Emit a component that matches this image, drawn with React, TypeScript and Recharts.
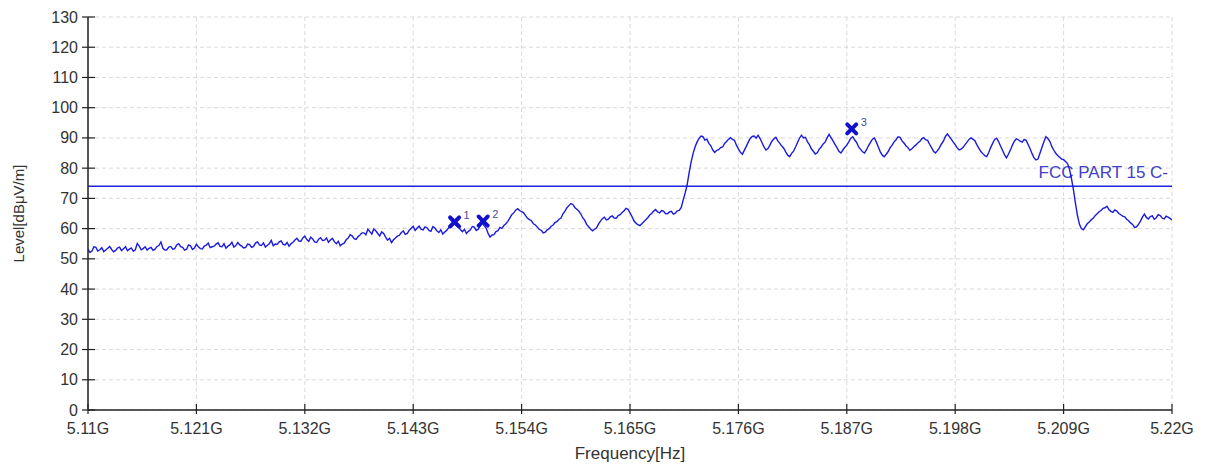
import React from 'react';
import { ComposedChart, Line, Scatter, XAxis, YAxis, CartesianGrid, ReferenceLine } from 'recharts';

// sweep: start frequency (GHz) and step between measured points
const START_FREQ = 5.11;
const FREQ_STEP = 0.0002;

// measured level trace (dBµV/m), one value per sweep point
const levels: number[] = [
  53.2, 52.1, 52.6, 54.0, 53.8, 52.6, 53.0, 53.7, 52.4, 52.9, 53.5, 54.1, 53.1, 52.3, 52.8, 53.6, 53.9, 52.7, 53.3, 54.0,
  52.7, 53.2, 53.6, 52.5, 53.0, 55.1, 54.2, 53.0, 53.4, 54.0, 52.9, 53.5, 53.8, 52.8, 53.2, 54.1, 54.4, 55.6, 53.5, 52.9,
  53.0, 53.9, 54.1, 53.2, 53.4, 54.6, 55.0, 54.0, 53.8, 52.9, 53.2, 54.6, 54.3, 53.1, 53.6, 54.8, 54.0, 53.4, 53.3, 54.2,
  54.5, 55.2, 53.7, 54.0, 54.2, 54.9, 55.3, 54.1, 54.0, 55.0, 53.5, 54.2, 54.6, 55.5, 53.9, 54.4, 55.4, 54.6, 54.2, 53.6,
  53.8, 54.9, 54.7, 53.8, 54.1, 55.2, 55.6, 54.6, 54.4, 55.3, 53.9, 54.5, 55.0, 56.1, 54.3, 54.9, 54.8, 55.6, 55.9, 54.8,
  54.6, 55.4, 54.2, 55.0, 55.5, 56.2, 56.8, 55.9, 55.8, 56.9, 57.5, 56.4, 55.8, 57.2, 56.6, 55.6, 55.4, 56.5, 57.0, 56.1,
  56.2, 56.9, 55.5, 56.2, 56.8, 55.7, 55.0, 55.8, 54.3, 54.9, 55.2, 56.3, 56.9, 58.0, 57.6, 56.7, 56.4, 57.3, 57.9, 58.6,
  58.6, 58.0, 59.8, 59.0, 58.2, 59.9, 59.3, 58.4, 57.6, 58.9, 58.4, 57.2, 56.2, 56.8, 55.4, 56.3, 56.9, 57.5, 57.8, 58.7,
  59.2, 58.1, 58.4, 59.5, 60.1, 60.8, 59.4, 60.2, 60.8, 59.8, 59.6, 60.6, 60.3, 59.4, 59.1, 60.7, 60.2, 59.3, 58.7, 59.6,
  58.2, 58.9, 59.4, 60.3, 60.6, 61.9, 61.6, 60.9, 60.4, 59.6, 59.0, 59.8, 58.4, 59.1, 59.6, 60.7, 60.5, 59.4, 59.8, 60.9,
  61.8, 61.0, 60.2, 58.4, 57.2, 57.9, 58.0, 59.0, 59.3, 60.4, 60.1, 61.0, 61.6, 62.4, 63.5, 64.6, 65.2, 66.1, 66.6, 66.0,
  65.6, 65.2, 64.3, 63.4, 63.0, 62.6, 61.6, 61.2, 60.5, 59.7, 59.4, 58.6, 58.8, 59.6, 60.0, 60.8, 61.2, 62.0, 62.4, 63.1,
  63.5, 64.9, 65.8, 66.9, 67.6, 68.3, 68.0, 67.0, 66.4, 65.8, 64.9, 63.6, 62.8, 61.4, 60.6, 59.9, 59.3, 59.8, 60.2, 61.5,
  62.5, 63.3, 63.8, 62.9, 63.1, 63.9, 64.2, 63.5, 63.4, 64.3, 64.6, 65.3, 65.9, 66.7, 66.4, 65.2, 64.0, 62.6, 61.8, 61.3,
  61.0, 61.6, 62.3, 62.9, 63.6, 64.5, 65.0, 65.8, 66.3, 65.5, 65.2, 66.0, 65.8, 65.0, 64.9, 65.5, 65.7, 64.8, 65.1, 65.9,
  66.0, 67.0, 69.5, 71.8, 74.5, 78.5, 82.0, 84.8, 87.0, 88.6, 89.8, 90.6, 90.4, 89.3, 89.6, 88.2, 87.4, 86.0, 85.2, 85.9,
  86.1, 86.8, 87.0, 88.2, 88.8, 89.6, 90.1, 89.5, 89.2, 87.6, 86.4, 85.3, 84.6, 85.9, 87.2, 88.6, 89.8, 90.5, 90.6, 89.9,
  90.9, 89.8, 88.4, 87.0, 86.0, 86.5, 87.6, 88.9, 89.7, 90.2, 89.0, 88.2, 87.3, 86.6, 85.4, 84.3, 83.8, 84.9, 85.6, 87.0,
  88.5, 89.9, 90.9, 90.0, 90.2, 88.8, 87.8, 86.4, 85.6, 84.7, 85.1, 86.3, 87.0, 88.0, 88.6, 90.0, 91.2, 90.1, 89.0, 87.9,
  86.8, 85.6, 85.0, 86.0, 86.9, 87.6, 88.7, 89.9, 90.4, 89.3, 88.5, 87.0, 86.2, 85.4, 85.0, 86.1, 87.4, 88.5, 89.6, 90.0,
  88.6, 87.0, 85.4, 84.3, 83.8, 84.6, 85.5, 86.8, 87.6, 88.7, 89.4, 90.4, 90.2, 89.0, 88.3, 87.4, 86.8, 85.9, 86.4, 87.1,
  87.6, 88.3, 88.8, 89.7, 90.1, 89.4, 89.2, 87.9, 86.8, 85.6, 85.0, 85.8, 86.7, 88.0, 88.9, 90.4, 91.3, 90.5, 89.6, 88.6,
  87.8, 86.7, 86.0, 86.3, 86.9, 87.8, 88.6, 89.5, 90.0, 89.6, 89.1, 87.7, 86.6, 85.5, 84.8, 84.1, 83.8, 85.2, 86.8, 88.2,
  89.5, 89.9, 88.8, 87.3, 85.9, 84.5, 83.4, 84.6, 86.0, 87.6, 88.9, 89.7, 89.4, 88.9, 88.6, 89.5, 89.2, 87.8, 86.4, 84.8,
  83.4, 82.7, 83.0, 84.9, 86.8, 88.7, 90.4, 89.8, 88.9, 87.2, 86.0, 84.9, 84.2, 83.6, 83.0, 82.8, 82.2, 81.5, 79.6, 76.5,
  72.8, 68.4, 64.5, 61.5, 60.0, 59.6, 60.6, 61.6, 62.2, 62.9, 63.4, 64.3, 64.9, 65.6, 66.0, 66.7, 66.9, 67.4, 66.3, 65.7,
  65.4, 66.2, 65.8, 65.0, 64.6, 64.1, 63.9, 63.1, 62.6, 61.9, 61.4, 60.4, 60.6, 61.4, 62.5, 63.8, 64.8, 63.7, 63.2, 64.0,
  64.2, 63.1, 63.6, 64.6, 64.3, 63.5, 63.2, 64.1, 63.8, 63.4, 62.9,
];

// x / y axis ticks
const xTicks = [5.11, 5.121, 5.132, 5.143, 5.154, 5.165, 5.176, 5.187, 5.198, 5.209, 5.22];
const yTicks = [0, 10, 20, 30, 40, 50, 60, 70, 80, 90, 100, 110, 120, 130];

// markers
const markerFreqs = [5.1472, 5.1501, 5.1875];
const markerLevels = [62.2, 62.5, 93.0];
const markerNames = ['1', '2', '3'];

// limit line
const limitLevel = 74;
const limitName = 'FCC PART 15 C-';

const trace = levels.map((v, i) => ({ f: +(START_FREQ + i * FREQ_STEP).toFixed(5), level: v }));
const markers = markerFreqs.map((f, i) => ({ f, level: markerLevels[i], name: markerNames[i] }));

const TRACE = '#1a1ae0';
const AXIS = '#222';
const TXT = '#333';
const FONT = '"Liberation Sans", Arial, sans-serif';

const YTick = (props: any) => {
  const { x, y, payload } = props;
  return (
    <g>
      <line x1={x - 6} x2={x + 7} y1={y} y2={y} stroke={AXIS} strokeWidth={1.2} />
      <text x={x - 10} y={y} dy={5.5} textAnchor="end" fontSize={16} fill={TXT} fontFamily={FONT}>
        {payload.value}
      </text>
    </g>
  );
};

const XTick = (props: any) => {
  const { x, y, payload } = props;
  return (
    <g>
      <line x1={x} x2={x} y1={y - 6} y2={y + 4} stroke={AXIS} strokeWidth={1.2} />
      <text x={x} y={y + 24} textAnchor="middle" fontSize={16} fill={TXT} fontFamily={FONT}>
        {`${+Number(payload.value).toFixed(3)}G`}
      </text>
    </g>
  );
};

const YLabel = (props: any) => {
  const vb = props.viewBox || {};
  const cx = (vb.x || 0) + 18;
  const cy = (vb.y || 0) + (vb.height || 0) / 2;
  return (
    <text x={cx} y={cy} transform={`rotate(-90 ${cx} ${cy})`} textAnchor="middle" dominantBaseline="central"
      fontSize={15} fill={TXT} fontFamily={FONT}>
      Level[dBμV/m]
    </text>
  );
};

const XLabel = (props: any) => {
  const vb = props.viewBox || {};
  const cx = (vb.x || 0) + (vb.width || 0) / 2;
  const cy = (vb.y || 0) + 49;
  return (
    <text x={cx} y={cy} textAnchor="middle" fontSize={17} fill={TXT} fontFamily={FONT}>
      Frequency[Hz]
    </text>
  );
};

const LimitLabel = (props: any) => {
  const vb = props.viewBox || {};
  const x = (vb.x || 0) + (vb.width || 0) - 4;
  const y = (vb.y || 0) - 8;
  return (
    <text x={x} y={y} textAnchor="end" fontSize={17} fill="#4040c8" fontFamily={FONT}>
      {limitName}
    </text>
  );
};

const MarkerShape = (props: any) => {
  const { cx, cy, payload } = props;
  const s = 4.5;
  return (
    <g>
      <line x1={cx - s} y1={cy - s} x2={cx + s} y2={cy + s} stroke="#1010d0" strokeWidth={4} strokeLinecap="round" />
      <line x1={cx - s} y1={cy + s} x2={cx + s} y2={cy - s} stroke="#1010d0" strokeWidth={4} strokeLinecap="round" />
      <text x={cx + 9} y={cy - 3} fontSize={11} fill="#4a4aa0" fontFamily={FONT}>{payload.name}</text>
    </g>
  );
};

export default function App() {
  return (
    <div style={{ position: 'absolute', left: 0, top: 0, width: 1207, height: 467, background: '#fff', fontFamily: FONT }}>
      <ComposedChart width={1207} height={467} margin={{ top: 17, right: 35, bottom: 0, left: 0 }}>
        <CartesianGrid stroke="#dadada" strokeDasharray="4 3" />
        <XAxis
          dataKey="f"
          type="number"
          domain={[5.11, 5.22]}
          ticks={xTicks}
          allowDataOverflow
          height={57}
          tickSize={0}
          tickMargin={0}
          tickLine={false}
          tick={<XTick />}
          axisLine={{ stroke: AXIS, strokeWidth: 1.5 }}
          label={<XLabel />}
          interval={0}
        />
        <YAxis
          type="number"
          domain={[0, 130]}
          ticks={yTicks}
          width={88}
          tickSize={0}
          tickMargin={0}
          tickLine={false}
          tick={<YTick />}
          axisLine={{ stroke: AXIS, strokeWidth: 1.5 }}
          label={<YLabel />}
          interval={0}
        />
        <ReferenceLine y={limitLevel} stroke="#2020e0" strokeWidth={1.6} label={<LimitLabel />} ifOverflow="visible" />
        <Line data={trace} dataKey="level" type="linear" stroke={TRACE} strokeWidth={1.4} dot={false} isAnimationActive={false} />
        <Scatter data={markers} dataKey="level" shape={<MarkerShape />} isAnimationActive={false} />
      </ComposedChart>
    </div>
  );
}
